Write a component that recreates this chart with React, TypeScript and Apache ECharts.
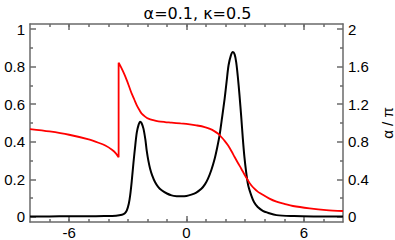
import React, { useEffect, useRef } from "react";
import * as echarts from "echarts";

const TITLE = "α=0.1, κ=0.5";
const RIGHT_NAME = "α / π";

const X_MIN = -8;
const X_MAX = 8;
const X_LABELS = [-6, 0, 6];
const X_MINOR = [-7, -6, -5, -4, -3, -2, -1, 0, 1, 2, 3, 4, 5, 6, 7];

const Y_LEFT_LABELS = [0, 0.2, 0.4, 0.6, 0.8, 1];
const Y_LEFT_MINOR = [0.1, 0.3, 0.5, 0.7, 0.9];
const Y_RIGHT_LABELS = [0, 0.4, 0.8, 1.2, 1.6, 2];
const Y_RIGHT_MINOR = [0.2, 0.6, 1.0, 1.4, 1.8];

// black curve (left axis)
const blackX = [
  -8, -7, -6, -5, -4.2, -3.6, -3.3, -3.15, -3.05, -2.95, -2.88, -2.8, -2.71, -2.62, -2.54, -2.45,
  -2.37, -2.3, -2.2, -2.1, -2.03, -1.95, -1.86, -1.75, -1.61, -1.45, -1.27, -1.0, -0.76, -0.5,
  -0.25, 0, 0.25, 0.5, 0.76, 0.95, 1.1, 1.27, 1.44, 1.57, 1.69, 1.82, 1.95, 2.05, 2.15, 2.27,
  2.37, 2.46, 2.54, 2.62, 2.71, 2.8, 2.88, 2.96, 3.05, 3.15, 3.31, 3.45, 3.64, 3.9, 4.15, 4.6,
  5.5, 6.5, 8,
];
const blackY = [
  0.003, 0.003, 0.004, 0.004, 0.005, 0.007, 0.012, 0.02, 0.035, 0.07, 0.115, 0.19, 0.29, 0.38, 0.45, 0.49,
  0.507, 0.5, 0.47, 0.41, 0.35, 0.3, 0.257, 0.22, 0.186, 0.16, 0.142, 0.125, 0.115, 0.111,
  0.11, 0.112, 0.119, 0.13, 0.15, 0.175, 0.204, 0.25, 0.31, 0.37, 0.434, 0.53, 0.63, 0.72, 0.807, 0.86,
  0.878, 0.865, 0.824, 0.75, 0.647, 0.53, 0.417, 0.32, 0.239, 0.17, 0.115, 0.08, 0.053, 0.033, 0.023, 0.01,
  0.005, 0.003, 0.002,
];

// red curve (right axis, alpha / pi)
const redX = [
  -8, -7, -6, -5, -4.5, -4.15, -3.81, -3.6, -3.47, -3.47, -3.4, -3.31, -3.18, -3.05, -2.92, -2.8,
  -2.67, -2.54, -2.4, -2.29, -2.1, -1.95, -1.7, -1.44, -1.1, -0.76, -0.3, 0.08, 0.5, 0.93, 1.2,
  1.44, 1.62, 1.78, 1.95, 2.12, 2.3, 2.46, 2.63, 2.8, 2.97, 3.14, 3.3, 3.47, 3.64, 3.81, 4.24,
  4.6, 5.0, 5.44, 6.29, 7.14, 8,
];
const redY = [
  0.935, 0.91, 0.875, 0.825, 0.79, 0.76, 0.715, 0.675, 0.635, 1.642, 1.615, 1.578, 1.52, 1.454, 1.38, 1.312,
  1.25, 1.188, 1.135, 1.099, 1.065, 1.046, 1.03, 1.018, 1.01, 1.004, 0.995, 0.989, 0.975, 0.957, 0.937,
  0.911, 0.885, 0.851, 0.81, 0.762, 0.7, 0.638, 0.575, 0.514, 0.45, 0.39, 0.34, 0.301, 0.27, 0.248, 0.195,
  0.163, 0.14, 0.117, 0.092, 0.074, 0.064,
];

const AXIS_COLOR = "#6a6a6a";
const FONT = "Liberation Sans";
const Y_LEFT_MIN = -0.0266;
const Y_LEFT_MAX = 1.0266;
const Y_RIGHT_MIN = -0.0532;
const Y_RIGHT_MAX = 2.0532;

function zip(xs: number[], ys: number[]) {
  return xs.map((x, i) => [x, ys[i]]);
}

export default function App() {
  const ref = useRef<HTMLDivElement>(null);
  useEffect(() => {
    if (!ref.current) return;
    document.body.style.margin = "0";
    const chart = echarts.init(ref.current, null, { renderer: "svg" });
    const lineStyle = { color: AXIS_COLOR, width: 1.5 };
    const labelStyle = { color: "#000", fontSize: 15, fontFamily: FONT };
    const xAxis = (position: string, major: boolean) => ({
      type: "value",
      min: X_MIN,
      max: X_MAX,
      position,
      axisLine: { show: major, onZero: false, lineStyle },
      axisTick: {
        show: true,
        inside: true,
        length: major ? 6 : 3,
        customValues: major ? X_LABELS : X_MINOR,
        lineStyle,
      },
      axisLabel: {
        show: major && position === "bottom",
        customValues: X_LABELS,
        margin: 3,
        ...labelStyle,
      },
      splitLine: { show: false },
    });
    const yAxis = (position: string, major: boolean) => {
      const left = position === "left";
      return {
        type: "value",
        min: left ? Y_LEFT_MIN : Y_RIGHT_MIN,
        max: left ? Y_LEFT_MAX : Y_RIGHT_MAX,
        position,
        name: !left && major ? RIGHT_NAME : "",
        nameLocation: "middle",
        nameRotate: 90,
        nameGap: 30,
        nameTextStyle: { color: "#000", fontSize: 15, fontFamily: FONT },
        axisLine: { show: major, onZero: false, lineStyle },
        axisTick: {
          show: true,
          inside: true,
          length: major ? 6 : 3,
          customValues: major ? (left ? Y_LEFT_LABELS : Y_RIGHT_LABELS) : left ? Y_LEFT_MINOR : Y_RIGHT_MINOR,
          lineStyle,
        },
        axisLabel: {
          show: major,
          customValues: left ? Y_LEFT_LABELS : Y_RIGHT_LABELS,
          margin: 5,
          ...labelStyle,
        },
        splitLine: { show: false },
      };
    };
    chart.setOption({
      animation: false,
      title: {
        text: TITLE,
        left: "center",
        top: 0,
        textStyle: { color: "#000", fontSize: 16, fontWeight: "normal", fontFamily: "DejaVu Sans" },
      },
      grid: { left: 30, right: 52, top: 24, bottom: 18, containLabel: false, outerBoundsMode: "none" },
      xAxis: [xAxis("bottom", true), xAxis("bottom", false), xAxis("top", true), xAxis("top", false)],
      yAxis: [yAxis("left", true), yAxis("left", false), yAxis("right", true), yAxis("right", false)],
      series: [
        {
          type: "line",
          xAxisIndex: 0,
          yAxisIndex: 0,
          data: zip(blackX, blackY),
          showSymbol: false,
          smooth: 0.3,
          lineStyle: { color: "#000", width: 2 },
        },
        {
          type: "line",
          xAxisIndex: 0,
          yAxisIndex: 2,
          data: zip(redX, redY),
          showSymbol: false,
          smooth: 0.3,
          lineStyle: { color: "#ff0000", width: 1.8 },
        },
      ],
    });
    return () => chart.dispose();
  }, []);
  return <div ref={ref} style={{ width: 395, height: 240 }} />;
}
